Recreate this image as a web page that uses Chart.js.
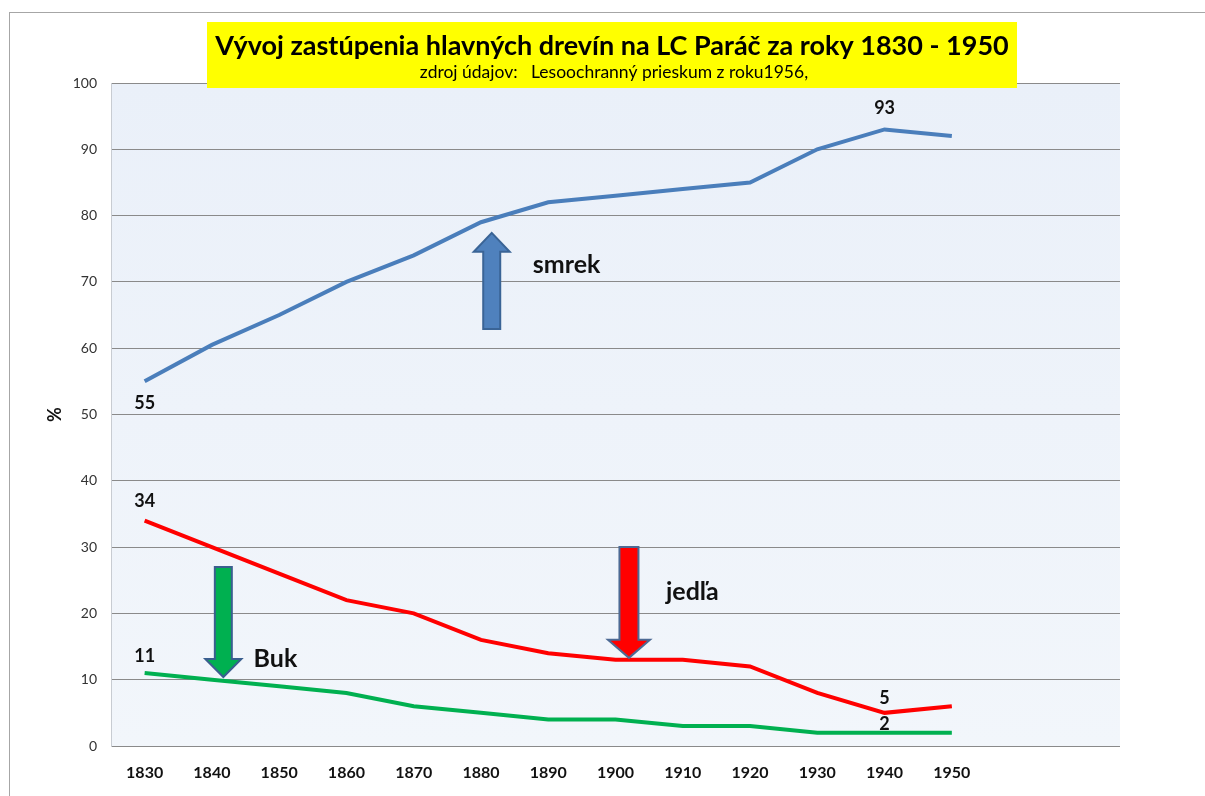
<!DOCTYPE html>
<html><head><meta charset="utf-8">
<script src="https://cdn.jsdelivr.net/npm/chart.js@4/dist/chart.umd.min.js"></script>
<style>html,body{margin:0;padding:0;background:#fff;overflow:hidden}</style>
</head><body>
<canvas id="c" width="1205" height="796"></canvas>
<script>
// ---- data ----
const years = ['1830','1840','1850','1860','1870','1880','1890','1900','1910','1920','1930','1940','1950','',''];
const smrek = [55, 60.5, 65, 70, 74, 79, 82, 83, 84, 85, 90, 93, 92];
const jedla = [34, 30, 26, 22, 20, 16, 14, 13, 13, 12, 8, 5, 6];
const buk   = [11, 10, 9, 8, 6, 5, 4, 4, 3, 3, 2, 2, 2];
const yMin = 0, yMax = 100, yStep = 10;
const titleText = 'Vývoj zastúpenia hlavných drevín na LC Paráč za roky 1830 - 1950';
const subtitleText = 'zdroj údajov:   Lesoochranný prieskum z roku1956,';
const seriesNames = ['smrek', 'jedľa', 'Buk'];
// arrows: [x category index, tail value, tip value]
const arrowSmrek = [5.16, 62.9, 77.4];
const arrowJedla = [7.2, 30.0, 13.3];
const arrowBuk   = [1.17, 27.0, 10.4];
// annotation text anchors: [x index, y value]
const textSmrek = [5.8, 72.5];
const textJedla = [7.78, 23.2];
const textBuk   = [1.65, 13.1];

const FONT = 'Lato, "Open Sans", sans-serif';

const decor = {
  id: 'decor',
  beforeDraw(chart) {
    const ctx = chart.ctx, a = chart.chartArea;
    ctx.save();
    ctx.fillStyle = '#fff';
    ctx.fillRect(0, 0, chart.width, chart.height);
    ctx.strokeStyle = '#a6a6a6';
    ctx.lineWidth = 1;
    ctx.strokeRect(9.5, 12.5, 1300, 900);
    const g = ctx.createLinearGradient(0, a.top, 0, a.bottom);
    g.addColorStop(0, '#eaf0f9');
    g.addColorStop(1, '#f2f6fb');
    ctx.fillStyle = g;
    ctx.fillRect(a.left, a.top, a.right - a.left, a.bottom - a.top);
    ctx.restore();
  },
  afterDatasetsDraw(chart) {
    const ctx = chart.ctx, xs = chart.scales.x, ys = chart.scales.y;
    const px = i => xs.getPixelForValue(0) + i * (xs.getPixelForValue(1) - xs.getPixelForValue(0));
    function arrow(def, fill, stroke, shaftW, headW, headLen) {
      const cx = px(def[0]), yT = ys.getPixelForValue(def[1]), yP = ys.getPixelForValue(def[2]);
      const dir = yP < yT ? 1 : -1;
      const yb = yP + dir * headLen;
      ctx.beginPath();
      ctx.moveTo(cx - shaftW/2, yT);
      ctx.lineTo(cx - shaftW/2, yb);
      ctx.lineTo(cx - headW/2, yb);
      ctx.lineTo(cx, yP);
      ctx.lineTo(cx + headW/2, yb);
      ctx.lineTo(cx + shaftW/2, yb);
      ctx.lineTo(cx + shaftW/2, yT);
      ctx.closePath();
      ctx.fillStyle = fill; ctx.fill();
      ctx.strokeStyle = stroke; ctx.lineWidth = 2; ctx.lineJoin = 'miter'; ctx.stroke();
    }
    ctx.save();
    arrow(arrowSmrek, '#4f81bd', '#3a6496', 17, 36, 19);
    arrow(arrowJedla, '#ff0000', '#4d6a94', 19, 42, 18);
    arrow(arrowBuk,   '#00b050', '#3a5f8f', 17, 36, 18);

    ctx.fillStyle = '#111';
    ctx.textBaseline = 'middle';
    ctx.textAlign = 'left';
    ctx.font = 'bold 25px ' + FONT;
    ctx.fillText(seriesNames[0], px(textSmrek[0]) - 2, ys.getPixelForValue(textSmrek[1]));
    ctx.fillText(seriesNames[1], px(textJedla[0]) - 2, ys.getPixelForValue(textJedla[1]));
    ctx.fillText(seriesNames[2], px(textBuk[0]) - 2, ys.getPixelForValue(textBuk[1]));

    ctx.textAlign = 'center';
    ctx.font = 'bold 18px ' + FONT;
    const lab = (arr, i, dy) => ctx.fillText(String(arr[i]), px(i), ys.getPixelForValue(arr[i]) + dy);
    lab(smrek, 0, 22);
    lab(smrek, 11, -21);
    lab(jedla, 0, -19);
    lab(jedla, 11, -15);
    lab(buk, 0, -17);
    lab(buk, 11, -9);
    ctx.restore();
  },
  afterDraw(chart) {
    const ctx = chart.ctx;
    ctx.save();
    ctx.fillStyle = '#ffff00';
    ctx.fillRect(207, 22, 810, 66);
    ctx.fillStyle = '#000';
    ctx.textAlign = 'center';
    ctx.textBaseline = 'middle';
    ctx.font = 'bold 27px ' + FONT;
    ctx.fillText(titleText, 612, 46, 800);
    ctx.font = '17.5px ' + FONT;
    ctx.fillText(subtitleText, 614, 72);
    ctx.restore();
  }
};

new Chart(document.getElementById('c'), {
  type: 'line',
  data: {
    labels: years,
    datasets: [
      { label: seriesNames[0], data: smrek, borderColor: '#4a7ebb', borderWidth: 4, pointRadius: 0, tension: 0 },
      { label: seriesNames[1], data: jedla, borderColor: '#ff0000', borderWidth: 4, pointRadius: 0, tension: 0 },
      { label: seriesNames[2], data: buk,   borderColor: '#00b050', borderWidth: 4, pointRadius: 0, tension: 0 }
    ]
  },
  options: {
    responsive: false,
    animation: false,
    devicePixelRatio: 1,
    layout: { padding: { top: 83, right: 85, bottom: 0, left: 0 } },
    plugins: { legend: { display: false }, tooltip: { enabled: false } },
    scales: {
      x: {
        offset: true,
        afterFit: s => { s.height = 50; },
        grid: { display: false, drawTicks: false },
        border: { display: false },
        ticks: { autoSkip: false, maxRotation: 0, padding: 17, color: '#111', font: { family: FONT, size: 16, weight: 'bold' } }
      },
      y: {
        min: yMin, max: yMax,
        afterFit: s => { s.width = 111; },
        grid: { color: '#8a8a8a', lineWidth: 1, drawTicks: false },
        border: { display: true, color: '#c8ccd2' },
        ticks: { stepSize: yStep, padding: 14, color: '#333', font: { family: FONT, size: 14 } },
        title: { display: true, text: '%', color: '#111', padding: { top: 44 }, font: { family: FONT, size: 18, weight: 'bold' } }
      }
    }
  },
  plugins: [decor]
});
</script>
</body></html>
